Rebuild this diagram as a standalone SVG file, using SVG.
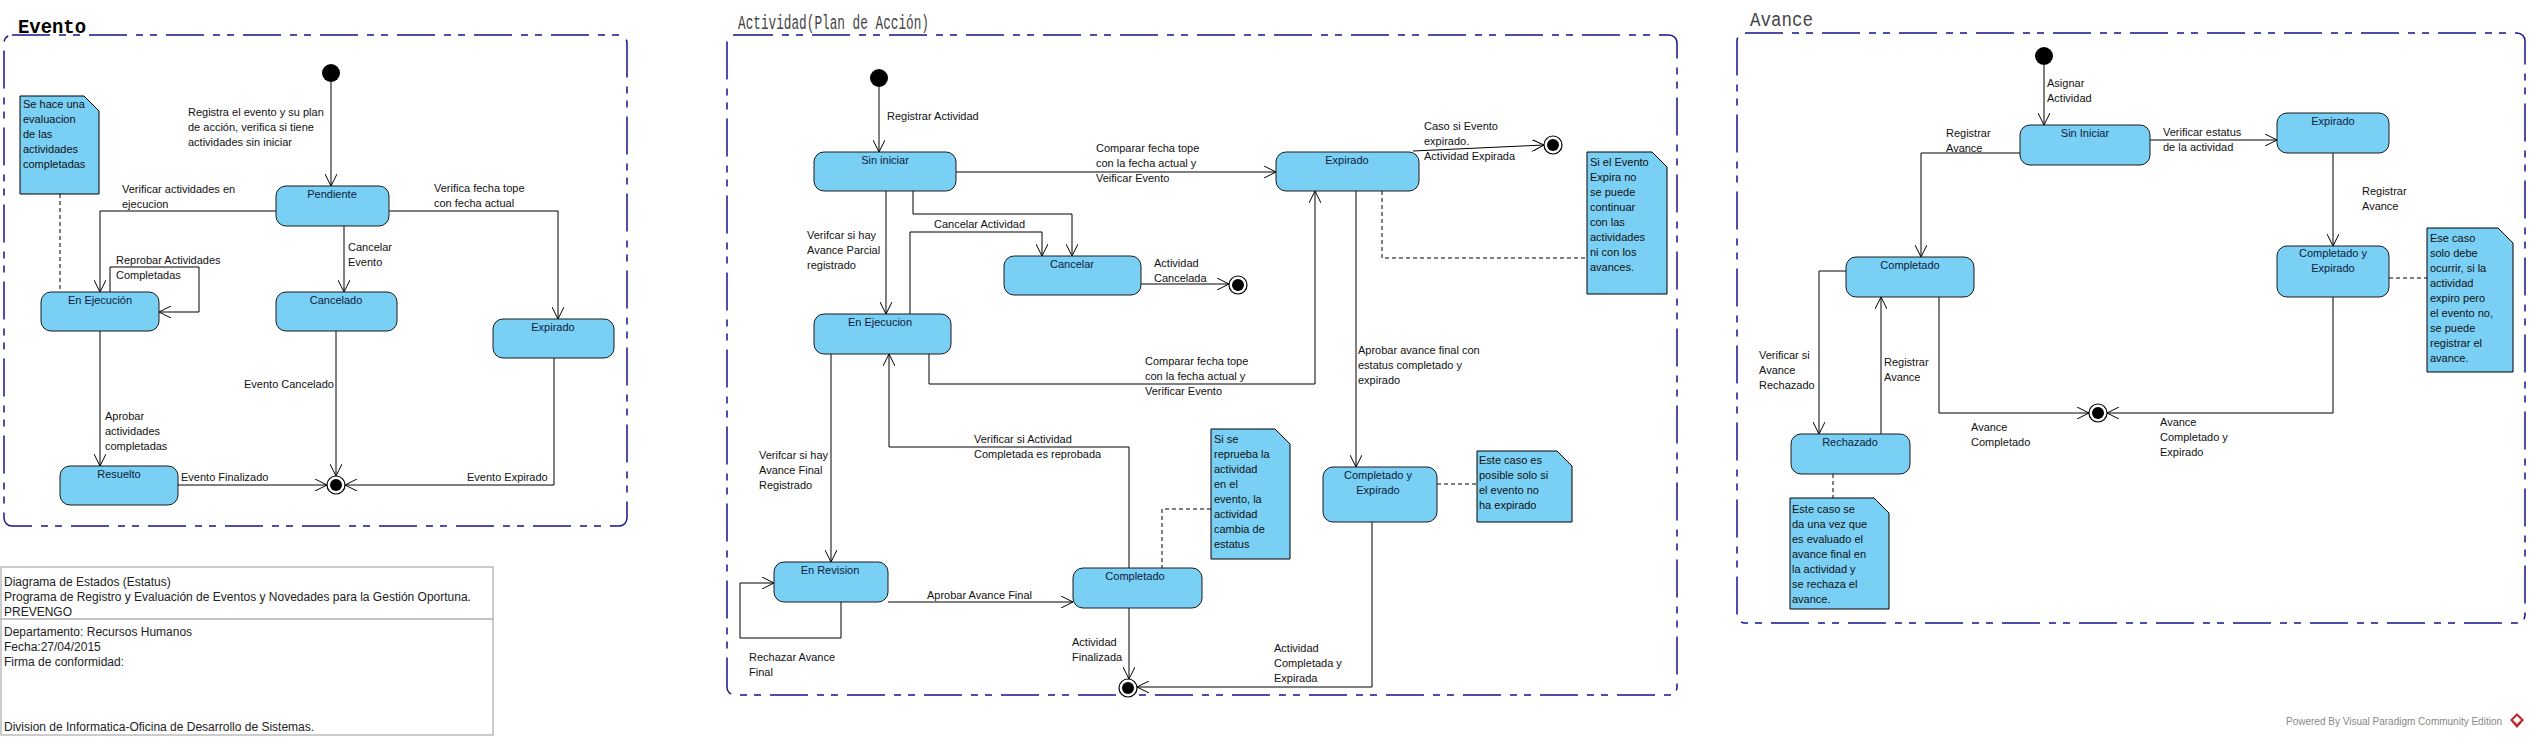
<svg xmlns="http://www.w3.org/2000/svg" width="2529" height="737" viewBox="0 0 2529 737">
<defs>
<marker id="arr" viewBox="0 0 12 12" refX="12" refY="6" markerWidth="12" markerHeight="12" markerUnits="userSpaceOnUse" orient="auto">
<path d="M0,0 L12,6 L0,12" fill="none" stroke="#000" stroke-width="1"/>
</marker>
</defs>
<style>
.frame{fill:none;stroke:#14148f;stroke-width:1.5;stroke-dasharray:38 9 7 7 7 9}
.st{fill:#7acff5;stroke:#1a1a1a;stroke-width:1}
.note{fill:#7acff5;stroke:#000;stroke-width:1}
.e{fill:none;stroke:#000;stroke-width:1;marker-end:url(#arr)}
.d{fill:none;stroke:#000;stroke-width:1;stroke-dasharray:4 3}
.init{fill:#000}
.fo{fill:#fff;stroke:#000;stroke-width:1.2}
.fi{fill:#000}
text{font-family:"Liberation Sans",Arial,sans-serif;font-size:11px;fill:#111}
.sn{text-anchor:middle;fill:#0d1b3a}
.tb{font-size:12px;fill:#222}
.ttl{font-family:"Liberation Mono","DejaVu Sans Mono",monospace;font-size:20px;fill:#444}
.ttlb{font-weight:bold;fill:#000}
</style>
<rect width="2529" height="737" fill="#fff"/>

<!-- ================= EVENTO ================= -->
<g id="frame-evento">
<rect class="frame" x="4" y="35" width="623" height="491" rx="8"/>
<text class="ttl ttlb" x="18" y="33" textLength="68" lengthAdjust="spacingAndGlyphs">Evento</text>
</g>
<g id="connectors-evento">
<path class="e" d="M331,82 V186"/>
<path class="e" d="M276,211 H100 V292"/>
<path class="e" d="M389,211 H558 V319"/>
<path class="e" d="M344,226 V292"/>
<path class="e" d="M110,292 V267 H199 V312 H159"/>
<path class="e" d="M100,331 V466"/>
<path class="e" d="M336,331 V476"/>
<path class="e" d="M178,485 H327"/>
<path class="e" d="M554,358 V485 H345"/>
<path class="d" d="M60,194 V292"/>
<text x="188" y="116">Registra el evento y su plan</text>
<text x="188" y="131">de acción, verifica si tiene</text>
<text x="188" y="146">actividades sin iniciar</text>
<text x="122" y="193">Verificar actividades en</text>
<text x="122" y="208">ejecucion</text>
<text x="434" y="192">Verifica fecha tope</text>
<text x="434" y="207">con fecha actual</text>
<text x="348" y="251">Cancelar</text>
<text x="348" y="266">Evento</text>
<text x="116" y="264">Reprobar Actividades</text>
<text x="116" y="279">Completadas</text>
<text x="105" y="420">Aprobar</text>
<text x="105" y="435">actividades</text>
<text x="105" y="450">completadas</text>
<text x="244" y="388">Evento Cancelado</text>
<text x="181" y="481">Evento Finalizado</text>
<text x="467" y="481">Evento Expirado</text>
</g>
<g id="ev-init"><circle class="init" cx="331" cy="73" r="9"/></g>
<g id="ev-pendiente"><rect class="st" x="276" y="186" width="113" height="40" rx="10"/><text class="sn" x="332" y="198">Pendiente</text></g>
<g id="ev-ejecucion"><rect class="st" x="41" y="292" width="118" height="39" rx="10"/><text class="sn" x="100" y="304">En Ejecución</text></g>
<g id="ev-cancelado"><rect class="st" x="276" y="292" width="121" height="39" rx="10"/><text class="sn" x="336" y="304">Cancelado</text></g>
<g id="ev-expirado"><rect class="st" x="493" y="319" width="121" height="39" rx="10"/><text class="sn" x="553" y="331">Expirado</text></g>
<g id="ev-resuelto"><rect class="st" x="60" y="466" width="118" height="39" rx="10"/><text class="sn" x="119" y="478">Resuelto</text></g>
<g id="ev-final"><circle class="fo" cx="336" cy="485" r="9"/><circle class="fi" cx="336" cy="485" r="6"/></g>
<g id="ev-note">
<path class="note" d="M20,96 H84 L99,111 V194 H20 Z"/>
<text x="23" y="108">Se hace una</text>
<text x="23" y="123">evaluacion</text>
<text x="23" y="138">de las</text>
<text x="23" y="153">actividades</text>
<text x="23" y="168">completadas</text>
</g>

<!-- ================= TITLE BLOCK ================= -->
<g id="title-block">
<rect x="1" y="567" width="492" height="168" fill="#fff" stroke="#999" stroke-width="1"/>
<line x1="1" y1="619" x2="493" y2="619" stroke="#888" stroke-width="1"/>
<text class="tb" x="4" y="586">Diagrama de Estados (Estatus)</text>
<text class="tb" x="4" y="601">Programa de Registro y Evaluación de Eventos y Novedades para la Gestión Oportuna.</text>
<text class="tb" x="4" y="616">PREVENGO</text>
<text class="tb" x="4" y="636">Departamento: Recursos Humanos</text>
<text class="tb" x="4" y="651">Fecha:27/04/2015</text>
<text class="tb" x="4" y="666">Firma de conformidad:</text>
<text class="tb" x="4" y="731">Division de Informatica-Oficina de Desarrollo de Sistemas.</text>
</g>

<!-- ================= ACTIVIDAD ================= -->
<g id="frame-actividad">
<rect class="frame" x="727" y="35" width="950" height="660" rx="8"/>
<text class="ttl" x="738" y="29" textLength="191" lengthAdjust="spacingAndGlyphs">Actividad(Plan de Acción)</text>
</g>
<g id="connectors-actividad">
<path class="e" d="M879,87 V152"/>
<path class="e" d="M956,172 H1276"/>
<path class="e" d="M1413,151 L1544,145"/>
<path class="e" d="M913,191 V214 H1072 V256"/>
<path class="e" d="M910,314 V232 H1042 V256"/>
<path class="e" d="M886,191 V314"/>
<path class="e" d="M1141,284 H1229"/>
<path class="e" d="M929,354 V384 H1315 V191"/>
<path class="e" d="M1356,191 V467"/>
<path class="e" d="M1129,568 V447 H889 V354"/>
<path class="e" d="M831,354 V562"/>
<path class="e" d="M841,602 V638 H740 V583 H774"/>
<path class="e" d="M888,602 H1073"/>
<path class="e" d="M1129,608 V679"/>
<path class="e" d="M1372,522 V687 H1137"/>
<path class="d" d="M1382,191 V258 H1587"/>
<path class="d" d="M1211,509 H1162 V568"/>
<path class="d" d="M1437,484 H1477"/>
<text x="887" y="120">Registrar Actividad</text>
<text x="1096" y="152">Comparar fecha tope</text>
<text x="1096" y="167">con la fecha actual y</text>
<text x="1096" y="182">Veificar Evento</text>
<text x="1424" y="130">Caso si Evento</text>
<text x="1424" y="145">expirado.</text>
<text x="1424" y="160">Actividad Expirada</text>
<text x="934" y="228">Cancelar Actividad</text>
<text x="807" y="239">Verifcar si hay</text>
<text x="807" y="254">Avance Parcial</text>
<text x="807" y="269">registrado</text>
<text x="1154" y="267">Actividad</text>
<text x="1154" y="282">Cancelada</text>
<text x="1145" y="365">Comparar fecha tope</text>
<text x="1145" y="380">con la fecha actual y</text>
<text x="1145" y="395">Verificar Evento</text>
<text x="1358" y="354">Aprobar avance final con</text>
<text x="1358" y="369">estatus completado y</text>
<text x="1358" y="384">expirado</text>
<text x="974" y="443">Verificar si Actividad</text>
<text x="974" y="458">Completada es reprobada</text>
<text x="759" y="459">Verifcar si hay</text>
<text x="759" y="474">Avance Final</text>
<text x="759" y="489">Registrado</text>
<text x="927" y="599">Aprobar Avance Final</text>
<text x="749" y="661">Rechazar Avance</text>
<text x="749" y="676">Final</text>
<text x="1072" y="646">Actividad</text>
<text x="1072" y="661">Finalizada</text>
<text x="1274" y="652">Actividad</text>
<text x="1274" y="667">Completada y</text>
<text x="1274" y="682">Expirada</text>
</g>
<g id="ac-init"><circle class="init" cx="879" cy="78" r="9"/></g>
<g id="ac-sin-iniciar"><rect class="st" x="814" y="152" width="142" height="39" rx="10"/><text class="sn" x="885" y="164">Sin iniciar</text></g>
<g id="ac-expirado"><rect class="st" x="1276" y="152" width="143" height="39" rx="10"/><text class="sn" x="1347" y="164">Expirado</text></g>
<g id="ac-cancelar"><rect class="st" x="1004" y="256" width="137" height="39" rx="10"/><text class="sn" x="1072" y="268">Cancelar</text></g>
<g id="ac-ejecucion"><rect class="st" x="814" y="314" width="137" height="40" rx="10"/><text class="sn" x="880" y="326">En Ejecucion</text></g>
<g id="ac-revision"><rect class="st" x="774" y="562" width="114" height="40" rx="10"/><text class="sn" x="830" y="574">En Revision</text></g>
<g id="ac-completado"><rect class="st" x="1073" y="568" width="129" height="40" rx="10"/><text class="sn" x="1135" y="580">Completado</text></g>
<g id="ac-comp-exp"><rect class="st" x="1323" y="467" width="114" height="55" rx="10"/><text class="sn" x="1378" y="479">Completado y</text><text class="sn" x="1378" y="494">Expirado</text></g>
<g id="ac-final-exp"><circle class="fo" cx="1553" cy="145" r="9"/><circle class="fi" cx="1553" cy="145" r="6"/></g>
<g id="ac-final-cancel"><circle class="fo" cx="1238" cy="285" r="9"/><circle class="fi" cx="1238" cy="285" r="6"/></g>
<g id="ac-final"><circle class="fo" cx="1128" cy="688" r="9"/><circle class="fi" cx="1128" cy="688" r="6"/></g>
<g id="ac-note-expira">
<path class="note" d="M1587,152 H1652 L1667,167 V294 H1587 Z"/>
<text x="1590" y="166">Si el Evento</text>
<text x="1590" y="181">Expira no</text>
<text x="1590" y="196">se puede</text>
<text x="1590" y="211">continuar</text>
<text x="1590" y="226">con las</text>
<text x="1590" y="241">actividades</text>
<text x="1590" y="256"> ni con los</text>
<text x="1590" y="271">avances.</text>
</g>
<g id="ac-note-reprueba">
<path class="note" d="M1211,429 H1275 L1290,444 V559 H1211 Z"/>
<text x="1214" y="443">Si se</text>
<text x="1214" y="458">reprueba la</text>
<text x="1214" y="473">actividad</text>
<text x="1214" y="488">en el</text>
<text x="1214" y="503">evento, la</text>
<text x="1214" y="518">actividad</text>
<text x="1214" y="533">cambia de</text>
<text x="1214" y="548">estatus</text>
</g>
<g id="ac-note-posible">
<path class="note" d="M1477,451 H1557 L1572,466 V522 H1477 Z"/>
<text x="1479" y="464">Este caso es</text>
<text x="1479" y="479">posible solo si</text>
<text x="1479" y="494">el evento no</text>
<text x="1479" y="509">ha expirado</text>
</g>

<!-- ================= AVANCE ================= -->
<g id="frame-avance">
<rect class="frame" x="1737" y="33" width="788" height="590" rx="8"/>
<text class="ttl" x="1750" y="26" textLength="63" lengthAdjust="spacingAndGlyphs">Avance</text>
</g>
<g id="connectors-avance">
<path class="e" d="M2044,65 V125"/>
<path class="e" d="M2150,140 H2277"/>
<path class="e" d="M2333,153 V246"/>
<path class="e" d="M2020,153 H1921 V257"/>
<path class="e" d="M1846,271 H1819 V434"/>
<path class="e" d="M1881,434 V297"/>
<path class="e" d="M1939,297 V413 H2089"/>
<path class="e" d="M2333,297 V413 H2107"/>
<path class="d" d="M2389,278 H2427"/>
<path class="d" d="M1833,474 V498"/>
<text x="2047" y="87">Asignar</text>
<text x="2047" y="102">Actividad</text>
<text x="2163" y="136">Verificar estatus</text>
<text x="2163" y="151">de la actividad</text>
<text x="2362" y="195">Registrar</text>
<text x="2362" y="210">Avance</text>
<text x="1946" y="137">Registrar</text>
<text x="1946" y="152">Avance</text>
<text x="1759" y="359">Verificar si</text>
<text x="1759" y="374">Avance</text>
<text x="1759" y="389">Rechazado</text>
<text x="1884" y="366">Registrar</text>
<text x="1884" y="381">Avance</text>
<text x="1971" y="431">Avance</text>
<text x="1971" y="446">Completado</text>
<text x="2160" y="426">Avance</text>
<text x="2160" y="441">Completado y</text>
<text x="2160" y="456">Expirado</text>
</g>
<g id="av-init"><circle class="init" cx="2044" cy="56" r="9"/></g>
<g id="av-sin-iniciar"><rect class="st" x="2020" y="125" width="130" height="40" rx="10"/><text class="sn" x="2085" y="137">Sin Iniciar</text></g>
<g id="av-expirado"><rect class="st" x="2277" y="113" width="112" height="40" rx="10"/><text class="sn" x="2333" y="125">Expirado</text></g>
<g id="av-comp-exp"><rect class="st" x="2277" y="246" width="112" height="51" rx="10"/><text class="sn" x="2333" y="257">Completado y</text><text class="sn" x="2333" y="272">Expirado</text></g>
<g id="av-completado"><rect class="st" x="1846" y="257" width="128" height="40" rx="10"/><text class="sn" x="1910" y="269">Completado</text></g>
<g id="av-rechazado"><rect class="st" x="1791" y="434" width="119" height="40" rx="10"/><text class="sn" x="1850" y="446">Rechazado</text></g>
<g id="av-final"><circle class="fo" cx="2098" cy="413" r="9"/><circle class="fi" cx="2098" cy="413" r="6"/></g>
<g id="av-note-expiro">
<path class="note" d="M2427,228 H2498 L2513,243 V372 H2427 Z"/>
<text x="2430" y="242">Ese caso</text>
<text x="2430" y="257">solo debe</text>
<text x="2430" y="272">ocurrir, si la</text>
<text x="2430" y="287">actividad</text>
<text x="2430" y="302">expiro pero</text>
<text x="2430" y="317">el evento no,</text>
<text x="2430" y="332">se puede</text>
<text x="2430" y="347">registrar el</text>
<text x="2430" y="362">avance.</text>
</g>
<g id="av-note-rechaza">
<path class="note" d="M1790,498 H1874 L1889,513 V609 H1790 Z"/>
<text x="1792" y="513">Este caso se</text>
<text x="1792" y="528">da una vez que</text>
<text x="1792" y="543">es evaluado el</text>
<text x="1792" y="558">avance final en</text>
<text x="1792" y="573">la actividad y</text>
<text x="1792" y="588">se rechaza el</text>
<text x="1792" y="603">avance.</text>
</g>

<g id="watermark">
<text x="2286" y="725" style="fill:#888;font-size:10px">Powered By  Visual Paradigm Community Edition</text>
<path d="M2517,713 L2524,720 L2517,728 L2510,720 Z" fill="#c0282d"/>
<path d="M2513,720 L2517,716 L2521,720 L2517,724 Z" fill="#fff"/>
</g>
</svg>
